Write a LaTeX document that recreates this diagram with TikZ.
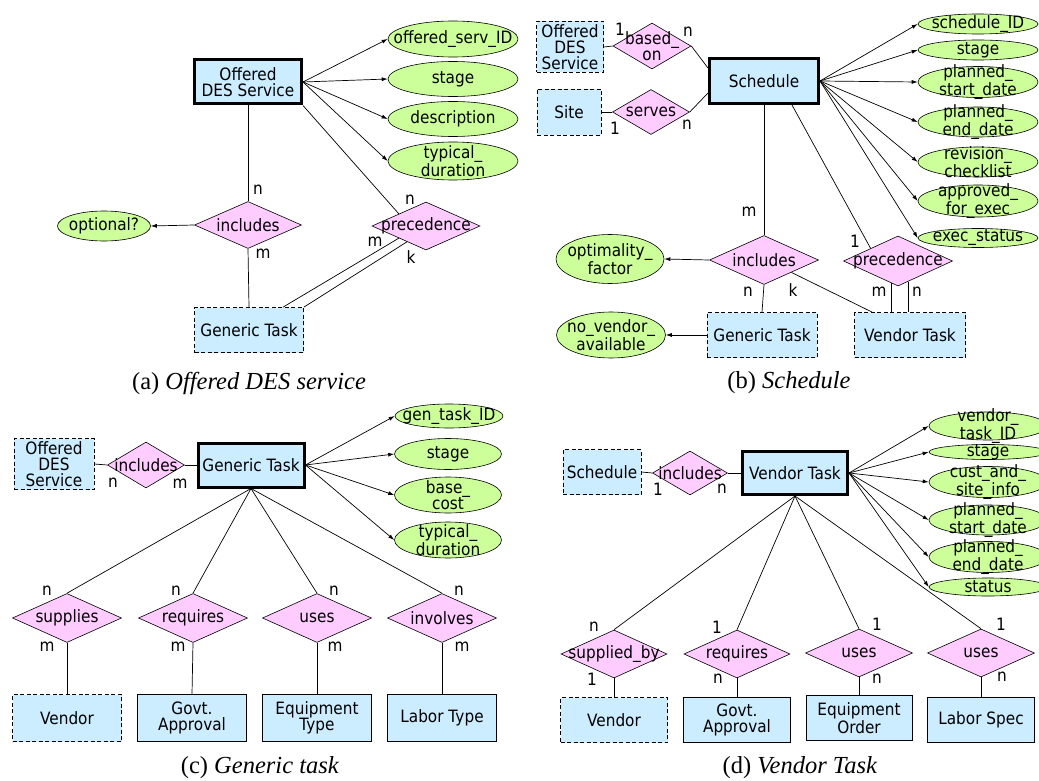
\documentclass[tikz,border=0pt]{standalone}
\usepackage{fontspec}
\setmainfont{DejaVu Sans}[FakeStretch=0.9]
\newfontfamily\capfont{Liberation Serif}
\usetikzlibrary{shapes.geometric,arrows.meta,calc}

\definecolor{entblue}{RGB}{204,236,255}
\definecolor{attgreen}{RGB}{204,255,153}
\definecolor{relpink}{RGB}{255,204,255}

\tikzset{
  entity/.style={rectangle, draw, fill=entblue, inner sep=0pt, align=center,
    minimum width=109pt, minimum height=47pt, line width=0.7pt},
  strong/.style={entity, line width=3pt},
  weak/.style={entity, dash pattern=on 4pt off 2.5pt},
  rel/.style={diamond, draw, fill=relpink, inner sep=0pt,
    minimum width=108pt, minimum height=48pt, line width=0.6pt},
  attr/.style 2 args={ellipse, draw, fill=attgreen, inner sep=0pt,
    minimum width=#1, minimum height=#2, line width=0.6pt},
  card/.style={inner sep=0pt},
  captext/.style={font=\capfont\fontsize{24.5}{28}\selectfont},
  every label/.style={align=center, inner sep=0pt},
}

\begin{document}
\begin{tikzpicture}[x=1pt, y=-1pt, font=\fontsize{17}{16}\selectfont,
    line width=0.7pt, >={Latex[length=6pt,width=4pt]}]

  \useasboundingbox (0,0) rectangle (1039,781);

  % (a) offered DES service
  \node[strong, minimum width=107pt, minimum height=44pt] (osv) at (248,82) {Offered\\DES Service};
  \node[attr={130pt}{36pt}, label=center:offered\_serv\_ID] (osvid) at (453,39) {};
  \node[attr={130pt}{35pt}, label=center:stage] (osvst) at (453,79) {};
  \node[attr={130pt}{35pt}, label=center:description] (osvds) at (453,119) {};
  \node[attr={130pt}{38pt}, label={center:typical\_\\duration}] (osvdu) at (453,161) {};
  \node[rel, minimum width=107pt, minimum height=47pt, label=center:includes] (inca) at (248,225) {};
  \node[attr={93pt}{30pt}, label=center:optional?] (opt) at (104,226) {};
  \node[rel, label=center:precedence] (preca) at (426,226) {};
  \node[weak, minimum height=45pt] (gta) at (249,330) {Generic Task};

  \node[card] at (258,190) {n};
  \node[card] at (263,254) {m};
  \node[card] at (410,200) {n};
  \node[card] at (375,242) {m};
  \node[card] at (411,257) {k};

  \path[->] (osv.east) edge (osvid.west);
  \path[->] (osv.east) edge (osvst.west);
  \path[->] (osv.east) edge (osvds.west);
  \path[->] (osv.east) edge (osvdu.west);
  \path (osv.south) edge (inca.north);
  \path (osv.south east) edge (preca.north west);
  \path[->] (inca.west) edge (opt.east);
  \path (inca.south) edge (gta.north);
  \path ([xshift=34pt]gta.north) edge (preca.south west);
  \path (gta.north east) edge ($(preca.west)!0.65!(preca.south)$);

  \node[captext] (capa) at (249,383) {(a) \textit{Offered DES service}};

  % (b) schedule
  \node[strong, minimum width=109pt, minimum height=45pt] (sched) at (764,81) {Schedule};
  \node[weak, minimum width=67pt, minimum height=51pt] (odesb) at (570,47) {Offered\\DES\\Service};
  \node[rel, minimum width=78pt, minimum height=46pt, label={center:based\_\\on}] (basedon) at (652,46) {};
  \node[weak, minimum width=64pt, minimum height=46pt] (site) at (569,112) {Site};
  \node[rel, minimum width=77pt, minimum height=45pt, label=center:serves] (serves) at (651,112) {};
  \node[attr={120pt}{20pt}, label=center:schedule\_ID] (schid) at (978,24) {};
  \node[attr={120pt}{20pt}, label=center:stage] (schst) at (978,50) {};
  \node[attr={120pt}{31pt}, label={center:planned\_\\start\_date}] (schps) at (978,82) {};
  \node[attr={120pt}{30pt}, label={center:planned\_\\end\_date}] (schpe) at (978,122) {};
  \node[attr={120pt}{30pt}, label={center:revision\_\\checklist}] (schrc) at (978,162) {};
  \node[attr={120pt}{32pt}, label={center:approved\_\\for\_exec}] (schap) at (978,201) {};
  \node[attr={120pt}{19pt}, label=center:exec\_status] (sches) at (978,238) {};
  \node[rel, minimum width=109pt, minimum height=49pt, label=center:includes] (incb) at (764,260) {};
  \node[attr={108pt}{49pt}, label={center:optimality\_\\factor}] (optf) at (610,259) {};
  \node[rel, minimum width=109pt, minimum height=50pt, label=center:precedence] (precb) at (898,261) {};
  \node[weak, minimum width=110pt, minimum height=45pt] (gtb) at (762,335) {Generic Task};
  \node[attr={109pt}{46pt}, label={center:no\_vendor\_\\available}] (nova) at (611,335) {};
  \node[weak, minimum width=111pt, minimum height=45pt] (vtb) at (910,335) {Vendor Task};

  \node[card] at (620,29) {1};
  \node[card] at (688,32) {n};
  \node[card] at (615,128) {1};
  \node[card] at (687,125) {n};
  \node[card] at (749,212) {m};
  \node[card] at (748,292) {n};
  \node[card] at (793,290) {k};
  \node[card] at (855,241) {1};
  \node[card] at (879,292) {m};
  \node[card] at (917,292) {n};

  \path (odesb.east) edge (basedon.west);
  \path (basedon.east) edge ([yshift=13pt]sched.west);
  \path (site.east) edge (serves.west);
  \path (serves.east) edge ([yshift=-12pt]sched.west);
  \path[->] (sched.east) edge (schid.west);
  \path[->] (sched.east) edge (schst.west);
  \path[->] (sched.east) edge (schps.west);
  \path[->] (sched.east) edge (schpe.west);
  \path[->] (sched.east) edge (schrc.west);
  \path[->] (sched.east) edge (schap.west);
  \path[->] (sched.east) edge (sches.west);
  \path (sched.south) edge (incb.north);
  \path[->] (incb.west) edge (optf.east);
  \path (incb.south) edge (gtb.north);
  \path (incb.south east) edge ([xshift=18pt]vtb.north west);
  \path[->] (gtb.west) edge (nova.east);
  \path ([xshift=28pt]sched.south) edge (precb.north west);
  \draw ($(precb.west)!0.87!(precb.south)$) coordinate (pm) -- (pm |- vtb.north);
  \draw ($(precb.south)!0.18!(precb.east)$) coordinate (pn) -- (pn |- vtb.north);

  \node[captext] (capb) at (789,383) {(b) \textit{Schedule}};

  % (c) generic task
  \node[strong, minimum width=106pt, minimum height=44pt] (gtc) at (251,465) {Generic Task};
  \node[weak, minimum width=80pt, minimum height=51pt] (odesc) at (54,464) {Offered\\DES\\Service};
  \node[rel, minimum width=77pt, minimum height=46pt, label=center:includes] (incc) at (146,465) {};
  \node[attr={108pt}{24pt}, label=center:gen\_task\_ID] (gtid) at (449,416) {};
  \node[attr={107pt}{31pt}, label=center:stage] (gtst) at (448,454) {};
  \node[attr={107pt}{36pt}, label={center:base\_\\cost}] (gtbc) at (448,495) {};
  \node[attr={107pt}{36pt}, label={center:typical\_\\duration}] (gtdu) at (448,540) {};
  \node[rel, minimum width=109pt, minimum height=49pt, label=center:supplies] (supc) at (67,618) {};
  \node[rel, minimum width=109pt, minimum height=49pt, label=center:requires] (reqc) at (193,618) {};
  \node[rel, minimum width=109pt, minimum height=49pt, label=center:uses] (usec) at (317,618) {};
  \node[rel, minimum width=109pt, minimum height=49pt, label=center:involves] (invc) at (442,618) {};
  \node[weak] (vendc) at (67,718) {Vendor};
  \node[entity] (govc) at (192,718) {Govt.\\Approval};
  \node[entity] (eqtc) at (317,718) {Equipment\\Type};
  \node[entity] (labc) at (442,718) {Labor Type};

  \node[card] at (113,483) {n};
  \node[card] at (180,484) {m};
  \node[card] at (47,591) {n};
  \node[card] at (47,647) {m};
  \node[card] at (176,591) {n};
  \node[card] at (178,647) {m};
  \node[card] at (334,591) {n};
  \node[card] at (335,647) {m};
  \node[card] at (459,591) {n};
  \node[card] at (462,647) {m};

  \path (odesc.east) edge (incc.west);
  \path (incc.east) edge (gtc.west);
  \path[->] (gtc.east) edge (gtid.west);
  \path[->] (gtc.east) edge (gtst.west);
  \path[->] (gtc.east) edge (gtbc.west);
  \path[->] (gtc.east) edge (gtdu.west);
  \path (gtc.south) edge (supc.north);
  \path (gtc.south) edge (reqc.north);
  \path (gtc.south) edge (usec.north);
  \path (gtc.south) edge (invc.north);
  \path (supc.south) edge (vendc.north);
  \path (reqc.south) edge (govc.north);
  \path (usec.south) edge (eqtc.north);
  \path (invc.south) edge (labc.north);

  \node[captext] (capc) at (260,768) {(c) \textit{Generic task}};

  % (d) vendor task
  \node[strong, minimum width=105pt, minimum height=43pt] (vtd) at (795,473) {Vendor Task};
  \node[weak, minimum width=78pt, minimum height=45pt] (schd) at (602,472) {Schedule};
  \node[rel, minimum width=75pt, minimum height=44pt, label=center:includes] (incd) at (690,473) {};
  \node[attr={118pt}{28pt}, label={center:vendor\_\\task\_ID}] (vtid) at (988,426) {};
  \node[attr={118pt}{15pt}, label=center:stage] (vtst) at (988,452) {};
  \node[attr={118pt}{31pt}, label={center:cust\_and\_\\site\_info}] (vtcs) at (988,482) {};
  \node[attr={118pt}{30pt}, label={center:planned\_\\start\_date}] (vtps) at (988,520) {};
  \node[attr={118pt}{31pt}, label={center:planned\_\\end\_date}] (vtpe) at (988,557) {};
  \node[attr={118pt}{18pt}, label=center:status] (vtsu) at (988,587) {};
  \node[rel, minimum width=106pt, minimum height=48pt, label=center:supplied\_by] (supd) at (614,654) {};
  \node[rel, minimum width=106pt, minimum height=48pt, label=center:requires] (reqd) at (737,654) {};
  \node[rel, minimum width=107pt, minimum height=48pt, label=center:uses] (used) at (859,653) {};
  \node[rel, minimum width=107pt, minimum height=48pt, label=center:uses] (uses) at (981,653) {};
  \node[weak, minimum width=107pt, minimum height=45pt] (vendd) at (614,720) {Vendor};
  \node[entity, minimum width=107pt, minimum height=45pt] (govd) at (737,720) {Govt.\\Approval};
  \node[entity, minimum width=106pt, minimum height=45pt] (eqod) at (859,718) {Equipment\\Order};
  \node[entity, minimum width=107pt, minimum height=45pt] (labd) at (981,720) {Labor Spec};

  \node[card] at (658,489) {1};
  \node[card] at (722,489) {n};
  \node[card] at (594,627) {n};
  \node[card] at (592,679) {1};
  \node[card] at (717,627) {1};
  \node[card] at (718,679) {n};
  \node[card] at (877,624) {1};
  \node[card] at (877,679) {n};
  \node[card] at (1001,624) {1};
  \node[card] at (1002,677) {n};

  \path (schd.east) edge (incd.west);
  \path (incd.east) edge (vtd.west);
  \path[->] (vtd.east) edge (vtid.west);
  \path[->] (vtd.east) edge (vtst.west);
  \path[->] (vtd.east) edge (vtcs.west);
  \path[->] (vtd.east) edge (vtps.west);
  \path[->] (vtd.east) edge (vtpe.west);
  \path[->] (vtd.east) edge (vtsu.west);
  \path (vtd.south) edge (supd.north);
  \path (vtd.south) edge (reqd.north);
  \path (vtd.south) edge (used.north);
  \path (vtd.south) edge (uses.north);
  \path (supd.south) edge (vendd.north);
  \path (reqd.south) edge (govd.north);
  \path (used.south) edge (eqod.north);
  \path (uses.south) edge (labd.north);

  \node[captext] (capd) at (800,768) {(d) \textit{Vendor Task}};

\end{tikzpicture}
\end{document}
